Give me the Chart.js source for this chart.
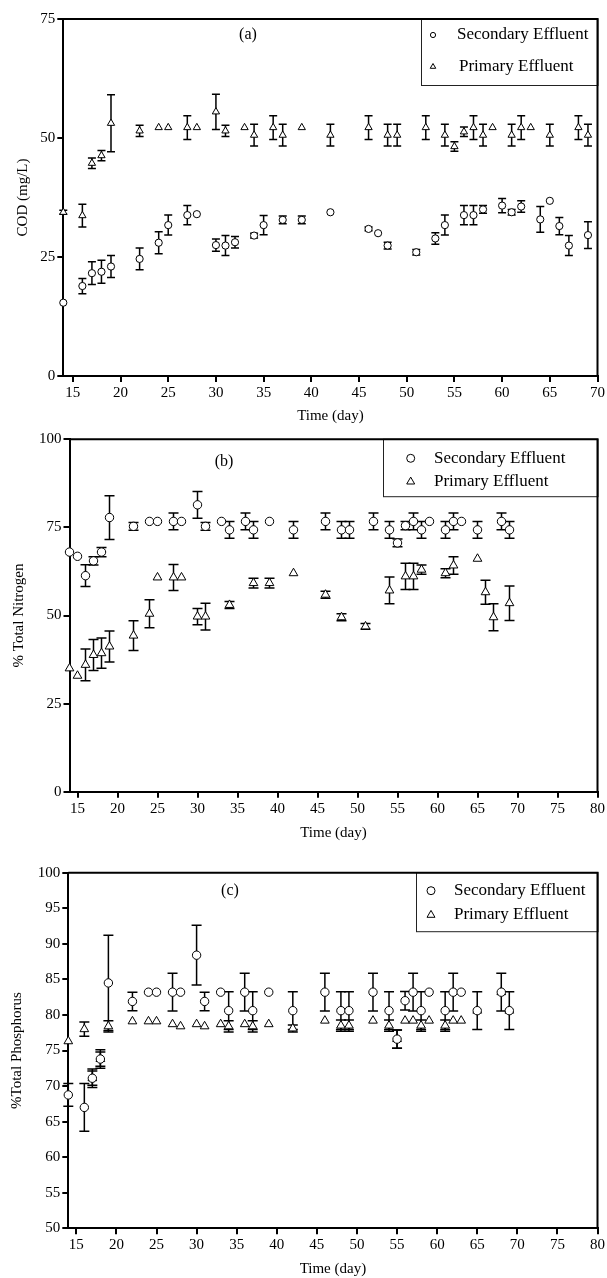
<!DOCTYPE html>
<html><head><meta charset="utf-8">
<script src="https://cdn.jsdelivr.net/npm/chart.js@4/dist/chart.umd.min.js"></script>
<style>
html,body{margin:0;padding:0;background:#fff;}
body{width:607px;height:1278px;position:relative;overflow:hidden;}
canvas{position:absolute;left:0;}
</style></head><body>
<canvas id="ca" width="607" height="432" style="top:0px;width:607px;height:432px"></canvas>
<canvas id="cb" width="607" height="420" style="top:425px;width:607px;height:420px"></canvas>
<canvas id="cc" width="607" height="428" style="top:850px;width:607px;height:428px"></canvas>
<script>
// ---------- Panel (a): COD ----------
const codSecDays = [14,16,17,18,19,22,24,25,27,28,30,31,32,34,35,37,39,42,46,47,48,51,53,54,56,57,58,60,61,62,64,65,66,67,69];
const codSecVals = [15.4,18.9,21.6,21.9,23.0,24.6,28.0,31.7,33.8,34.0,27.5,27.4,28.1,29.5,31.7,32.8,32.8,34.4,30.9,30.0,27.4,26.0,28.9,31.7,33.8,33.8,35.0,35.8,34.4,35.6,32.9,36.8,31.5,27.4,29.6];
const codSecErr  = [0,1.6,2.4,2.4,2.3,2.3,2.3,2.1,2.0,0,1.3,2.1,1.2,0.5,2.0,0.8,0.8,0,0.4,0,0.7,0.6,1.2,2.1,2.0,2.0,0.8,1.5,0.6,1.2,2.7,0,1.8,2.1,2.8];
const codPriDays = [14,16,17,18,19,22,24,25,27,28,30,31,33,34,36,37,39,42,46,48,49,52,54,55,56,57,58,59,61,62,63,65,68,69];
const codPriVals = [34.4,33.7,44.7,46.3,53.1,51.5,52.2,52.2,52.2,52.2,55.5,51.5,52.2,50.6,52.2,50.6,52.2,50.6,52.2,50.6,50.6,52.2,50.6,48.2,51.3,52.2,50.6,52.2,50.6,52.2,52.2,50.6,52.2,50.6];
const codPriErr  = [0.4,2.4,1.1,1.1,6.0,1.2,0,0,2.5,0,3.7,1.2,0,2.3,2.5,2.3,0,2.3,2.5,2.3,2.3,2.5,2.3,1.0,1.0,2.5,2.3,0,2.3,2.5,0,2.3,2.5,2.3];
const codXTicks = [15,20,25,30,35,40,45,50,55,60,65,70];
const codYTicks = [0,25,50,75];

// ---------- Panel (b): % Total Nitrogen ----------
const tnSecDays = [14,15,16,17,18,19,22,24,25,27,28,30,31,33,34,36,37,39,42,46,48,49,52,54,55,56,57,58,59,61,62,63,65,68,69];
const tnSecVals = [68.0,66.8,61.3,65.5,68.0,77.8,75.3,76.7,76.7,76.7,76.7,81.4,75.3,76.7,74.3,76.7,74.3,76.7,74.3,76.7,74.3,74.3,76.7,74.3,70.6,75.5,76.7,74.3,76.7,74.3,76.7,76.7,74.3,76.7,74.3];
const tnSecErr  = [0,0,3.1,1.2,1.3,6.2,1.1,0,0,2.4,0,3.8,1.1,0,2.4,2.4,2.4,0,2.4,2.4,2.4,2.4,2.4,2.4,1.1,1.2,2.4,2.4,0,2.4,2.4,0,2.4,2.4,2.4];
const tnPriDays = [14,15,16,17,18,19,22,24,25,27,28,30,31,34,37,39,42,46,48,51,54,56,57,58,61,62,65,66,67,69];
const tnPriVals = [35.0,32.9,36.0,38.8,39.3,41.2,44.3,50.5,60.8,60.8,60.8,49.7,49.7,53.0,59.2,59.2,62.0,55.9,49.5,46.9,57.1,61.1,61.1,63.0,62.0,64.2,66.1,56.6,49.5,53.5];
const tnPriErr  = [0,0,4.5,4.4,4.3,4.4,4.2,4.0,0,3.7,0,2.3,3.8,1.0,1.4,1.4,0,1.0,1.0,0.8,3.8,3.7,3.7,1.3,1.3,2.5,0,3.4,3.8,4.9];
const tnXTicks = [15,20,25,30,35,40,45,50,55,60,65,70,75,80];
const tnYTicks = [0,25,50,75,100];

// ---------- Panel (c): % Total Phosphorus ----------
const tpDays    = [14,16,17,18,19,22,24,25,27,28,30,31,33,34,36,37,39,42,46,48,49,52,54,55,56,57,58,59,61,62,63,65,68,69];
const tpSecVals = [68.75,67.0,71.1,73.8,84.5,81.9,83.2,83.2,83.2,83.2,88.4,81.9,83.2,80.6,83.2,80.6,83.2,80.6,83.2,80.6,80.6,83.2,80.6,76.6,82.0,83.2,80.6,83.2,80.6,83.2,83.2,80.6,83.2,80.6];
const tpSecErr  = [1.6,3.35,1.3,1.3,6.7,1.3,0,0,2.65,0,4.2,1.3,0,2.65,2.65,2.65,0,2.65,2.65,2.65,2.65,2.65,2.65,1.3,1.3,2.65,2.65,0,2.65,2.65,0,2.65,2.65,2.65];
const tpPriVals = [76.3,78.0,71.1,73.8,78.4,79.1,79.1,79.1,78.7,78.4,78.7,78.4,78.7,78.4,78.7,78.4,78.7,78.1,79.2,78.5,78.5,79.2,78.5,76.6,79.2,79.2,78.5,79.2,78.5,79.2,79.2,80.6,83.2,80.6];
const tpPriErr  = [0,1.0,1.0,1.0,0.8,0,0,0,0,0,0,0,0,0.8,0,0.8,0,0.5,0,0.8,0.8,0,0.8,1.3,0,0,0.8,0,0.8,0,0,0,0,0];
const tpXTicks = [15,20,25,30,35,40,45,50,55,60,65,70,75,80];
const tpYTicks = [50,55,60,65,70,75,80,85,90,95,100];

const seriesNames = ['Secondary Effluent','Primary Effluent'];
const FONT = "'Liberation Serif','Times New Roman',serif";

function pts(days, vals){ return days.map((d,i)=>({x:d, y:vals[i]})); }

const errorBars = {
  id:'errorBars',
  beforeDatasetsDraw(chart, args, o){
    const ctx = chart.ctx, xs = chart.scales.x, ys = chart.scales.y;
    ctx.save(); ctx.strokeStyle = '#000'; ctx.lineWidth = o.lineWidth;
    chart.data.datasets.forEach(ds=>{
      ds.data.forEach((p,i)=>{
        const e = ds.errors[i]; if(!e) return;
        const x = xs.getPixelForValue(p.x);
        const y1 = ys.getPixelForValue(p.y + e), y2 = ys.getPixelForValue(p.y - e);
        ctx.beginPath();
        ctx.moveTo(x, y1); ctx.lineTo(x, y2);
        ctx.moveTo(x - o.cap, y1); ctx.lineTo(x + o.cap, y1);
        ctx.moveTo(x - o.cap, y2); ctx.lineTo(x + o.cap, y2);
        ctx.stroke();
      });
    });
    ctx.restore();
  }
};

const decor = {
  id:'decor',
  afterDraw(chart, args, o){
    const ctx = chart.ctx, a = chart.chartArea;
    ctx.save();
    // legend box
    ctx.strokeStyle = '#222'; ctx.lineWidth = 1;
    ctx.strokeRect(Math.round(o.boxX)+0.5, a.top, a.right - Math.round(o.boxX), o.boxH);
    // legend entries
    ctx.font = '17px ' + FONT; ctx.fillStyle = '#000'; ctx.textBaseline = 'middle'; ctx.textAlign = 'left';
    chart.data.datasets.forEach((ds,i)=>{
      ctx.save();
      ctx.fillStyle = '#fff'; ctx.strokeStyle = '#000'; ctx.lineWidth = 1;
      Chart.helpers.drawPoint(ctx, {pointStyle: ds.pointStyle, radius: o.markR[i], borderWidth: 1, rotation: 0}, o.markX, o.rowY[i]);
      ctx.restore();
      ctx.fillText(ds.label, o.textX[i], o.rowY[i]);
    });
    // frame top & right
    ctx.strokeStyle = '#000'; ctx.lineWidth = 2;
    ctx.beginPath(); ctx.moveTo(a.left, a.top); ctx.lineTo(a.right, a.top); ctx.lineTo(a.right, a.bottom); ctx.stroke();
    // panel label
    ctx.font = '16px ' + FONT; ctx.textAlign = 'center'; ctx.fillStyle = '#000';
    ctx.fillText(o.panel, o.panelX, o.panelY);
    ctx.restore();
  }
};

function build(id, c){
  const ds = (label, days, vals, err, style, r) => ({
    label, data: pts(days, vals), errors: err, pointStyle: style, pointRadius: r,
    pointBackgroundColor: '#fff', pointBorderColor: '#000', pointBorderWidth: 1,
    showLine: false, clip: false
  });
  return new Chart(document.getElementById(id), {
    type: 'scatter',
    data: { datasets: [
      ds(seriesNames[0], c.sDays, c.sVals, c.sErr, 'circle', c.rc),
      ds(seriesNames[1], c.pDays, c.pVals, c.pErr, 'triangle', c.rt)
    ]},
    options: {
      responsive: false, animation: false, devicePixelRatio: 1,
      layout: { padding: { left: 0, right: c.padR, top: c.padT, bottom: 0 } },
      plugins: {
        legend: { display: false }, tooltip: { enabled: false },
        errorBars: { lineWidth: 1.5, cap: c.cap },
        decor: c.decor
      },
      scales: {
        x: {
          type: 'linear', min: c.xMin, max: c.xMax,
          afterBuildTicks: s => { s.ticks = c.xTicks.map(v => ({ value: v })); },
          afterFit: s => { s.height = c.xH; },
          grid: { drawOnChartArea: false, drawTicks: true, tickLength: 6, color: '#000', lineWidth: 2 },
          border: { display: true, color: '#000', width: 2 },
          ticks: { font: { family: FONT, size: 15 }, color: '#000', padding: 2, maxRotation: 0, autoSkip: false },
          title: { display: true, text: 'Time (day)', font: { family: FONT, size: 15 }, color: '#000', padding: { top: 0, bottom: c.xtPad } }
        },
        y: {
          type: 'linear', min: c.yMin, max: c.yMax,
          afterBuildTicks: s => { s.ticks = c.yTicks.map(v => ({ value: v })); },
          afterFit: s => { s.width = c.yW; },
          grid: { drawOnChartArea: false, drawTicks: true, tickLength: 6, color: '#000', lineWidth: 2 },
          border: { display: true, color: '#000', width: 2 },
          ticks: { font: { family: FONT, size: 15 }, color: '#000', padding: 2, autoSkip: false },
          title: { display: true, text: c.yTitle, font: { family: FONT, size: 15 }, color: '#000', padding: { top: c.ytPad, bottom: 0 } }
        }
      }
    },
    plugins: [errorBars, decor]
  });
}

build('ca', {
  sDays: codSecDays, sVals: codSecVals, sErr: codSecErr,
  pDays: codPriDays, pVals: codPriVals, pErr: codPriErr,
  rc: 3.6, rt: 4.2, cap: 4,
  xMin: 14, xMax: 70, xTicks: codXTicks, yMin: 0, yMax: 75, yTicks: codYTicks,
  padT: 19, padR: 9, xH: 56, xtPad: 6.5, yW: 63.3, ytPad: 14, yTitle: 'COD (mg/L)',
  decor: { boxX: 420.7, boxH: 66.5, markX: 433, rowY: [35, 66.7], markR: [2.6, 3.2], textX: [457, 459],
           panel: '(a)', panelX: 248, panelY: 35 }
});
build('cb', {
  sDays: tnSecDays, sVals: tnSecVals, sErr: tnSecErr,
  pDays: tnPriDays, pVals: tnPriVals, pErr: tnPriErr,
  rc: 4.2, rt: 5, cap: 5,
  xMin: 14, xMax: 80, xTicks: tnXTicks, yMin: 0, yMax: 100, yTicks: tnYTicks,
  padT: 14.3, padR: 9, xH: 53.3, xtPad: 2.7, yW: 69.5, ytPad: 10, yTitle: '% Total Nitrogen',
  decor: { boxX: 383.3, boxH: 57.4, markX: 410.7, rowY: [33.3, 56.7], markR: [4, 4.6], textX: [434, 434],
           panel: '(b)', panelX: 224, panelY: 36.7 }
});
build('cc', {
  sDays: tpDays, sVals: tpSecVals, sErr: tpSecErr,
  pDays: tpDays, pVals: tpPriVals, pErr: tpPriErr,
  rc: 4.2, rt: 5, cap: 5,
  xMin: 14, xMax: 80, xTicks: tpXTicks, yMin: 50, yMax: 100, yTicks: tpYTicks,
  padT: 22.7, padR: 7, xH: 49.7, xtPad: 0, yW: 68.3, ytPad: 8, yTitle: '%Total Phosphorus',
  decor: { boxX: 416, boxH: 59, markX: 431, rowY: [40.7, 65], markR: [4, 4.6], textX: [454, 454],
           panel: '(c)', panelX: 230, panelY: 40.7 }
});
</script>
</body></html>
